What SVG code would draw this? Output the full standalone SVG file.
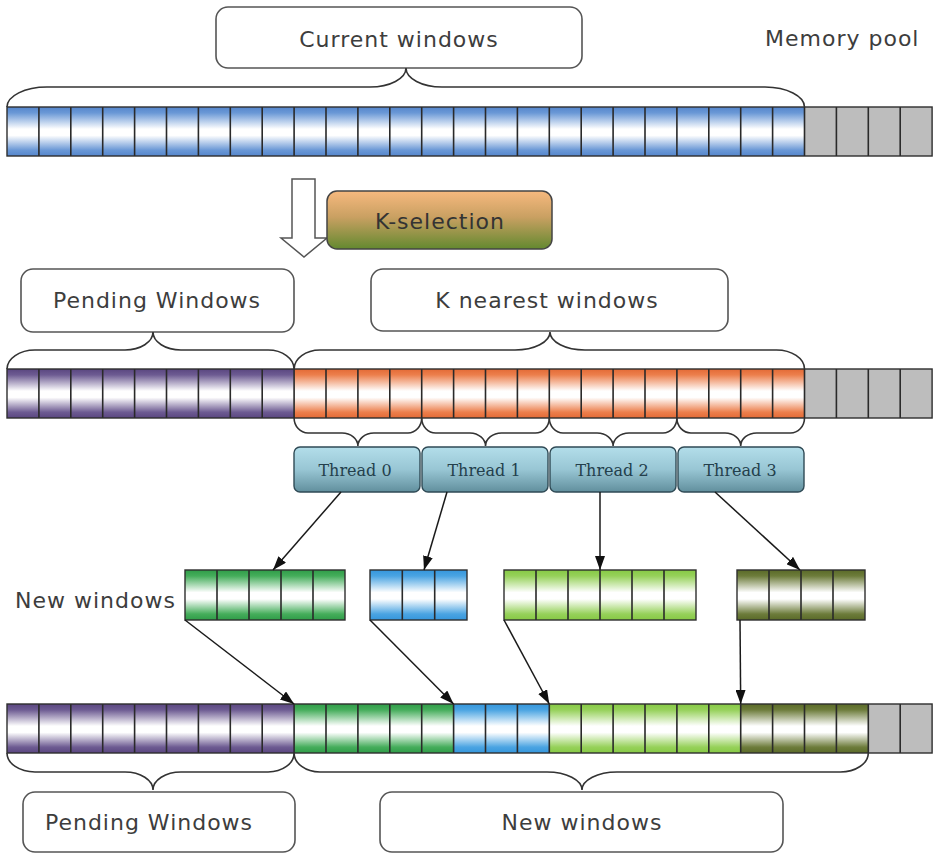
<svg xmlns="http://www.w3.org/2000/svg" width="933" height="854" viewBox="0 0 933 854">
<defs>
<style>
.lbl{font-family:"DejaVu Sans","Liberation Sans",sans-serif;font-size:22px;letter-spacing:1px;fill:#3d3d3d}
.thr{font-family:"DejaVu Serif","Liberation Serif",serif;font-size:16px;fill:#24404c;text-anchor:middle}
.box{fill:#fff;stroke:#555;stroke-width:1.6}
.brace{fill:none;stroke:#333;stroke-width:1.6}
.div{fill:none;stroke:#2a2a2a;stroke-width:1.6}
.row{fill:none;stroke:#2e2e2e;stroke-width:1.4}
.gray{fill:#bdbdbd}
.arr{fill:none;stroke:#1a1a1a;stroke-width:1.5;marker-end:url(#ah)}
.tbox{fill:url(#gThr);stroke:#2f4a55;stroke-width:1.4}
</style>
<marker id="ah" viewBox="0 0 14 10" markerUnits="userSpaceOnUse" markerWidth="14" markerHeight="10" refX="14" refY="5" orient="auto"><path d="M0 0L14 5L0 10z" fill="#111"/></marker>
<linearGradient id="gBlue" x1="0" y1="0" x2="0" y2="1"><stop offset="0" stop-color="#5586cc"/><stop offset="0.12" stop-color="#6a98d6"/><stop offset="0.45" stop-color="#fff"/><stop offset="0.58" stop-color="#fff"/><stop offset="0.88" stop-color="#6a98d6"/><stop offset="1" stop-color="#5586cc"/></linearGradient>
<linearGradient id="gPur" x1="0" y1="0" x2="0" y2="1"><stop offset="0" stop-color="#5a4680"/><stop offset="0.12" stop-color="#6d5b92"/><stop offset="0.45" stop-color="#fff"/><stop offset="0.58" stop-color="#fff"/><stop offset="0.88" stop-color="#6d5b92"/><stop offset="1" stop-color="#5a4680"/></linearGradient>
<linearGradient id="gOra" x1="0" y1="0" x2="0" y2="1"><stop offset="0" stop-color="#e36a36"/><stop offset="0.12" stop-color="#ec7f4c"/><stop offset="0.45" stop-color="#fff"/><stop offset="0.58" stop-color="#fff"/><stop offset="0.88" stop-color="#ec7f4c"/><stop offset="1" stop-color="#e36a36"/></linearGradient>
<linearGradient id="gGrn" x1="0" y1="0" x2="0" y2="1"><stop offset="0" stop-color="#2f9c48"/><stop offset="0.12" stop-color="#45ad5b"/><stop offset="0.45" stop-color="#fff"/><stop offset="0.58" stop-color="#fff"/><stop offset="0.88" stop-color="#45ad5b"/><stop offset="1" stop-color="#2f9c48"/></linearGradient>
<linearGradient id="gSky" x1="0" y1="0" x2="0" y2="1"><stop offset="0" stop-color="#3596dc"/><stop offset="0.12" stop-color="#4aa4e2"/><stop offset="0.45" stop-color="#fff"/><stop offset="0.58" stop-color="#fff"/><stop offset="0.88" stop-color="#4aa4e2"/><stop offset="1" stop-color="#3596dc"/></linearGradient>
<linearGradient id="gLime" x1="0" y1="0" x2="0" y2="1"><stop offset="0" stop-color="#86c944"/><stop offset="0.12" stop-color="#96d15a"/><stop offset="0.45" stop-color="#fff"/><stop offset="0.58" stop-color="#fff"/><stop offset="0.88" stop-color="#96d15a"/><stop offset="1" stop-color="#86c944"/></linearGradient>
<linearGradient id="gOli" x1="0" y1="0" x2="0" y2="1"><stop offset="0" stop-color="#5a6a28"/><stop offset="0.12" stop-color="#6d7c3b"/><stop offset="0.45" stop-color="#fff"/><stop offset="0.58" stop-color="#fff"/><stop offset="0.88" stop-color="#6d7c3b"/><stop offset="1" stop-color="#5a6a28"/></linearGradient>
<linearGradient id="gThr" x1="0" y1="0" x2="0" y2="1"><stop offset="0" stop-color="#b3deea"/><stop offset="0.5" stop-color="#98c6d4"/><stop offset="1" stop-color="#618f9d"/></linearGradient>
<linearGradient id="gKsel" x1="0" y1="0" x2="0" y2="1"><stop offset="0" stop-color="#f7b97e"/><stop offset="0.45" stop-color="#c9a062"/><stop offset="1" stop-color="#63892f"/></linearGradient>
</defs>
<rect width="933" height="854" fill="#fff"/>

<!-- Row 1: current windows -->
<g id="row-current">
<rect x="7" y="107" width="797.5" height="49" fill="url(#gBlue)"/>
<rect class="gray" x="804.5" y="107" width="127.6" height="49"/>
<path class="div" d="M38.9 107V156M70.8 107V156M102.7 107V156M134.6 107V156M166.5 107V156M198.4 107V156M230.3 107V156M262.2 107V156M294.1 107V156M326 107V156M357.9 107V156M389.8 107V156M421.7 107V156M453.6 107V156M485.5 107V156M517.4 107V156M549.3 107V156M581.2 107V156M613.1 107V156M645 107V156M676.9 107V156M708.8 107V156M740.7 107V156M772.6 107V156M804.5 107V156M836.4 107V156M868.3 107V156M900.2 107V156"/>
<rect class="row" x="7" y="107" width="925.1" height="49"/>
</g>

<g id="label-current">
<rect class="box" x="216" y="7" width="366" height="61" rx="12"/>
<text class="lbl" x="399" y="47" text-anchor="middle">Current windows</text>
</g>
<g id="label-memory">
<text class="lbl" x="765" y="46">Memory pool</text>
</g>

<!-- K-selection -->
<g id="kselect-arrow">
<polygon points="292,179 315,179 315,238 327,238 304,257 281,238 292,238" fill="#fff" stroke="#555" stroke-width="1.5"/>
</g>
<g id="kselect">
<rect x="327" y="191" width="225" height="58" rx="10" fill="url(#gKsel)" stroke="#444" stroke-width="1.5"/>
<text class="lbl" x="440" y="229" text-anchor="middle" style="fill:#333">K-selection</text>
</g>

<!-- Row 2 -->
<g id="label-pending-top">
<rect class="box" x="21" y="269" width="273" height="63" rx="12"/>
<text class="lbl" x="157" y="308" text-anchor="middle">Pending Windows</text>
</g>
<g id="label-knearest">
<rect class="box" x="371" y="269" width="357" height="62" rx="12"/>
<text class="lbl" x="547" y="308" text-anchor="middle">K nearest windows</text>
</g>
<g id="row-selected">
<rect x="7" y="369" width="287.1" height="49" fill="url(#gPur)"/>
<rect x="294.1" y="369" width="510.4" height="49" fill="url(#gOra)"/>
<rect class="gray" x="804.5" y="369" width="127.6" height="49"/>
<path class="div" d="M38.9 369V418M70.8 369V418M102.7 369V418M134.6 369V418M166.5 369V418M198.4 369V418M230.3 369V418M262.2 369V418M294.1 369V418M326 369V418M357.9 369V418M389.8 369V418M421.7 369V418M453.6 369V418M485.5 369V418M517.4 369V418M549.3 369V418M581.2 369V418M613.1 369V418M645 369V418M676.9 369V418M708.8 369V418M740.7 369V418M772.6 369V418M804.5 369V418M836.4 369V418M868.3 369V418M900.2 369V418"/>
<rect class="row" x="7" y="369" width="925.1" height="49"/>
</g>

<!-- Threads -->
<g id="thread0"><rect class="tbox" x="294" y="447" width="126" height="45" rx="6"/><text class="thr" x="355" y="476">Thread 0</text></g>
<g id="thread1"><rect class="tbox" x="422" y="447" width="126" height="45" rx="6"/><text class="thr" x="484" y="476">Thread 1</text></g>
<g id="thread2"><rect class="tbox" x="550" y="447" width="126" height="45" rx="6"/><text class="thr" x="612" y="476">Thread 2</text></g>
<g id="thread3"><rect class="tbox" x="678" y="447" width="126" height="45" rx="6"/><text class="thr" x="740" y="476">Thread 3</text></g>

<!-- New windows (per thread) -->
<g id="label-new-mid"><text class="lbl" x="15" y="608">New windows</text></g>
<g id="new-w0">
<rect x="185" y="570" width="160" height="50" fill="url(#gGrn)"/>
<path class="div" d="M217 570V620M249 570V620M281 570V620M313 570V620"/>
<rect class="row" x="185" y="570" width="160" height="50"/>
</g>
<g id="new-w1">
<rect x="370" y="570" width="97" height="50" fill="url(#gSky)"/>
<path class="div" d="M402.3 570V620M434.7 570V620"/>
<rect class="row" x="370" y="570" width="97" height="50"/>
</g>
<g id="new-w2">
<rect x="504" y="570" width="192" height="50" fill="url(#gLime)"/>
<path class="div" d="M536 570V620M568 570V620M600 570V620M632 570V620M664 570V620"/>
<rect class="row" x="504" y="570" width="192" height="50"/>
</g>
<g id="new-w3">
<rect x="737" y="570" width="128" height="50" fill="url(#gOli)"/>
<path class="div" d="M769 570V620M801 570V620M833 570V620"/>
<rect class="row" x="737" y="570" width="128" height="50"/>
</g>

<!-- Row 3 -->
<g id="row-result">
<rect x="7" y="704" width="287.1" height="49" fill="url(#gPur)"/>
<rect x="294.1" y="704" width="159.5" height="49" fill="url(#gGrn)"/>
<rect x="453.6" y="704" width="95.7" height="49" fill="url(#gSky)"/>
<rect x="549.3" y="704" width="191.4" height="49" fill="url(#gLime)"/>
<rect x="740.7" y="704" width="127.6" height="49" fill="url(#gOli)"/>
<rect class="gray" x="868.3" y="704" width="63.8" height="49"/>
<path class="div" d="M38.9 704V753M70.8 704V753M102.7 704V753M134.6 704V753M166.5 704V753M198.4 704V753M230.3 704V753M262.2 704V753M294.1 704V753M326 704V753M357.9 704V753M389.8 704V753M421.7 704V753M453.6 704V753M485.5 704V753M517.4 704V753M549.3 704V753M581.2 704V753M613.1 704V753M645 704V753M676.9 704V753M708.8 704V753M740.7 704V753M772.6 704V753M804.5 704V753M836.4 704V753M868.3 704V753M900.2 704V753"/>
<rect class="row" x="7" y="704" width="925.1" height="49"/>
</g>
<g id="label-pending-bottom">
<rect class="box" x="23" y="792" width="272" height="60" rx="12"/>
<text class="lbl" x="149" y="830" text-anchor="middle">Pending Windows</text>
</g>
<g id="label-new-bottom">
<rect class="box" x="380" y="792" width="403" height="60" rx="12"/>
<text class="lbl" x="582" y="830" text-anchor="middle">New windows</text>
</g>

<!-- Connectors -->
<g id="connectors">
<path class="brace" d="M7 107A40 20 0 0 1 47 87L370 87A36 19 0 0 0 406 68A36 19 0 0 0 442 87L765 87A40 20 0 0 1 804.5 107"/>
<path class="brace" d="M7 369A28 19 0 0 1 35 350L125 350A28 18 0 0 0 153 332A28 18 0 0 0 181 350L268 350A26 19 0 0 1 294.1 369"/>
<path class="brace" d="M294.1 369A26 19 0 0 1 320 350L515 350A35 18 0 0 0 550 332A35 18 0 0 0 585 350L776 350A28 19 0 0 1 804.5 369"/>
<path class="brace" d="M294.1 418A14 15 0 0 0 308 433L342 433A16 13 0 0 1 357.9 446A16 13 0 0 1 374 433L408 433A14 15 0 0 0 421.7 418"/>
<path class="brace" d="M421.7 418A14 15 0 0 0 436 433L470 433A16 13 0 0 1 485.5 446A16 13 0 0 1 502 433L535 433A14 15 0 0 0 549.3 418"/>
<path class="brace" d="M549.3 418A14 15 0 0 0 563 433L597 433A16 13 0 0 1 613.1 446A16 13 0 0 1 629 433L663 433A14 15 0 0 0 676.9 418"/>
<path class="brace" d="M676.9 418A14 15 0 0 0 691 433L725 433A16 13 0 0 1 740.7 446A16 13 0 0 1 757 433L790 433A14 15 0 0 0 804.5 418"/>
<path class="brace" d="M7 753A28 19 0 0 0 35 772L125 772A28 18 0 0 1 153 790A28 18 0 0 1 181 772L268 772A26 19 0 0 0 294.1 753"/>
<path class="brace" d="M294.1 753A26 19 0 0 0 320 772L547 772A35 18 0 0 1 582 790A35 18 0 0 1 617 772L840 772A28 19 0 0 0 868.3 753"/>
<line class="arr" x1="341" y1="492" x2="273" y2="570"/>
<line class="arr" x1="447" y1="492" x2="424" y2="570"/>
<line class="arr" x1="600" y1="492" x2="600" y2="570"/>
<line class="arr" x1="715" y1="492" x2="800" y2="570"/>
<line class="arr" x1="185" y1="620" x2="294.1" y2="704"/>
<line class="arr" x1="370" y1="620" x2="453.6" y2="704"/>
<line class="arr" x1="504" y1="620" x2="549.3" y2="704"/>
<line class="arr" x1="740" y1="620" x2="740.7" y2="704"/>
</g>
</svg>
